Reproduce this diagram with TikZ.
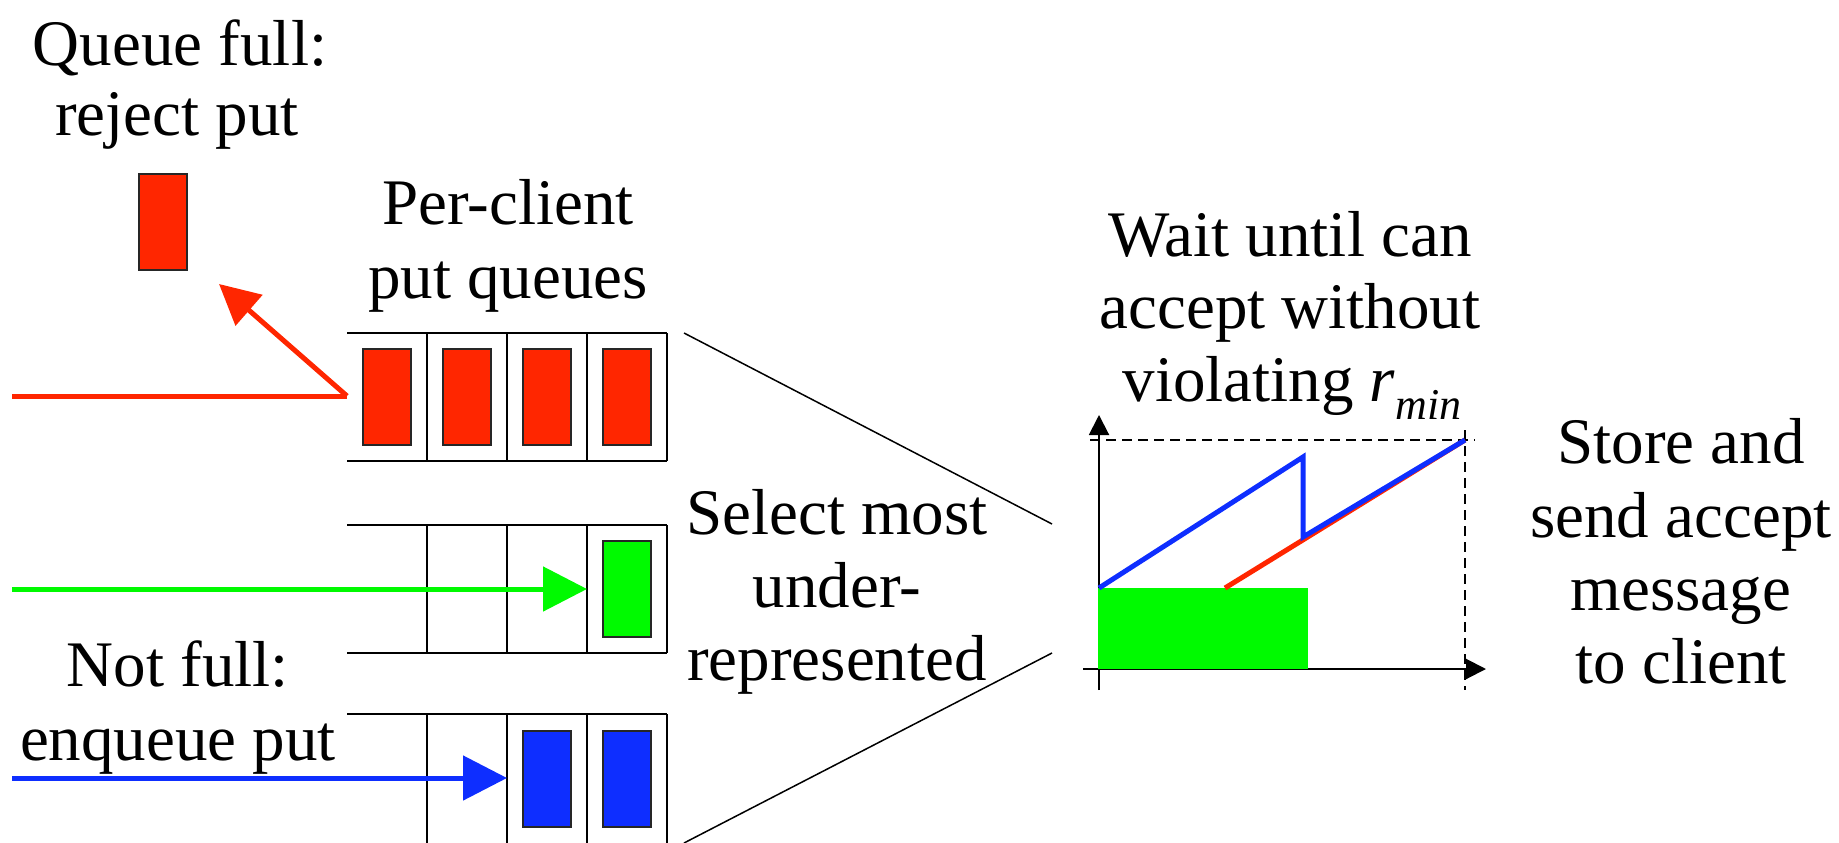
\documentclass[tikz,border=0pt]{standalone}
\usepackage{fontspec}
\setmainfont{Liberation Serif}
\usetikzlibrary{arrows.meta}
\definecolor{qred}{RGB}{255,38,0}
\definecolor{qgreen}{RGB}{0,250,0}
\definecolor{qblue}{RGB}{14,46,255}
\begin{document}
\begin{tikzpicture}[x=1pt,y=-1pt,
  txt/.style={font=\fontsize{65}{73}\selectfont, inner sep=0pt, anchor=base},
  msg/.style={draw=black!85, line width=2.5pt, minimum width=48pt, minimum height=96pt, inner sep=0pt},
  qline/.style={draw=black, line width=2pt},
  flow/.style={line width=5pt},
  bigtip/.style={-{Triangle[length=44pt,width=44pt]}},
  axis/.style={line width=2pt, -{Triangle[length=20pt,width=20pt]}},
  guide/.style={line width=2pt, dash pattern=on 10pt off 6pt},
  zoomline/.style={line width=1.5pt}]
\useasboundingbox (0,0) rectangle (1839,843);

% texts
\node[txt] (t1a) at (180,66) {Queue full:};
\node[txt] (t1b) at (177,135) {reject put};
\node[txt] (t2a) at (508,224) {Per-client};
\node[txt] (t2b) at (508,298) {put queues};
\node[txt] (t3a) at (178,686) {Not full:};
\node[txt] (t3b) at (178,760) {enqueue put};
\node[txt] (t4a) at (837,534) {Select most};
\node[txt] (t4b) at (837,607) {under-};
\node[txt] (t4c) at (837,680) {represented};
\node[txt] (t5a) at (1290,256) {Wait until can};
\node[txt] (t5b) at (1290,328) {accept without};
\node[txt] (t5c) at (1292,401) {violating \textit{r}\raisebox{-0.28em}{\fontsize{44}{44}\selectfont\itshape min}};
\node[txt] (t6a) at (1681,463) {Store and};
\node[txt] (t6b) at (1681,537) {send accept};
\node[txt] (t6c) at (1681,610) {message};
\node[txt] (t6d) at (1681,683) {to client};

% rejected put
\node[msg, fill=qred] (rej) at (163,222) {};

% queue 1
\draw[qline] (347,333) -- (667,333) (347,461) -- (667,461);
\foreach \x in {427,507,587,667} \draw[qline] (\x,333) -- (\x,461);
\node[msg, fill=qred] (r1) at (387,397) {};
\node[msg, fill=qred] (r2) at (467,397) {};
\node[msg, fill=qred] (r3) at (547,397) {};
\node[msg, fill=qred] (r4) at (627,397) {};

% queue 2
\draw[qline] (347,525) -- (667,525) (347,653) -- (667,653);
\foreach \x in {427,507,587,667} \draw[qline] (\x,525) -- (\x,653);
\node[msg, fill=qgreen] (g4) at (627,589) {};

% queue 3
\draw[qline] (347,714) -- (667,714);
\foreach \x in {427,507,587,667} \draw[qline] (\x,714) -- (\x,845);
\node[msg, fill=qblue] (b3) at (547,779) {};
\node[msg, fill=qblue] (b4) at (627,779) {};

% incoming puts
\coordinate (rin) at (12,396);
\coordinate (q1in) at (347,396);
\coordinate (rtip) at (219,284);
\draw[flow, qred] (rin) -- (q1in);
\draw[flow, qred, line join=miter, -{Triangle[length=40pt,width=40pt]}] (q1in) -- (rtip);

\coordinate (gin) at (12,589);
\coordinate (gtip) at (587,589);
\draw[flow, qgreen, bigtip] (gin) -- (gtip);

\coordinate (bin) at (12,778);
\coordinate (btip) at (507,778);
\draw[flow, qblue, bigtip] (bin) -- (btip);

% zoom lines
\coordinate (z1) at (684,333);
\coordinate (z2) at (1052,524);
\coordinate (z3) at (684,843);
\coordinate (z4) at (1052,653);
\draw[zoomline] (z1) -- (z2);
\draw[zoomline] (z3) -- (z4);

% graph
\coordinate (ybot) at (1099,690);
\coordinate (ytop) at (1099,415);
\coordinate (xl) at (1083,669);
\coordinate (xr) at (1486,669);
\draw[axis] (ybot) -- (ytop);
\draw[axis] (xl) -- (xr);
\draw[guide] (1090,440) -- (1475,440);
\draw[guide] (1465,430) -- (1465,690);
\fill[qgreen] (1098,588) rectangle (1308,669);
\draw[flow, qred] (1225,588) -- (1465,440);
\draw[flow, qblue, line join=miter] (1099,588) -- (1303,457) -- (1303,537) -- (1465,440);
\end{tikzpicture}
\end{document}
